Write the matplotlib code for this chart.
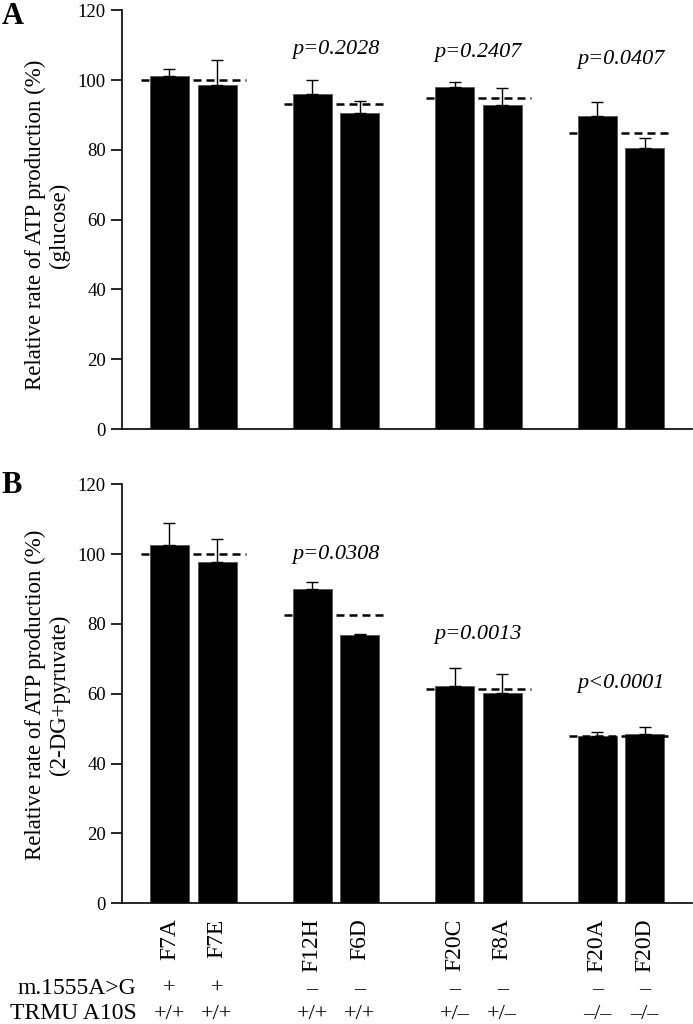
import numpy as np
import matplotlib
matplotlib.use("Agg")
import matplotlib.pyplot as plt

# --- ATP production relative rates, two conditions ---
lines = ["F7A", "F7E", "F12H", "F6D", "F20C", "F8A", "F20A", "F20D"]
positions = [0, 1, 3, 4, 6, 7, 9, 10]
mutation = ["+", "+", "\u2013", "\u2013", "\u2013", "\u2013", "\u2013", "\u2013"]
trmu = ["+/+", "+/+", "+/+", "+/+", "+/\u2013", "+/\u2013", "\u2013/\u2013", "\u2013/\u2013"]

glucose_mean = [101.3, 98.6, 95.9, 90.7, 97.9, 92.8, 89.7, 80.4]
glucose_err = [2.0, 7.0, 4.0, 3.3, 1.5, 4.8, 3.9, 3.1]
glucose_ref = [100.0, 93.1, 94.9, 84.7]
glucose_p = ["", "p=0.2028", "p=0.2407", "p=0.0407"]
glucose_p_y = [0, 108.7, 107.8, 105.8]

pyr_mean = [102.5, 97.7, 90.1, 76.8, 62.2, 60.3, 48.0, 48.5]
pyr_err = [6.4, 6.6, 2.0, 0.4, 5.3, 5.4, 1.1, 1.9]
pyr_ref = [100.0, 82.7, 61.4, 48.0]
pyr_p = ["", "p=0.0308", "p=0.0013", "p<0.0001"]
pyr_p_y = [0, 99.8, 76.9, 63.0]

plt.rcParams['font.family'] = ['Liberation Serif', 'DejaVu Serif']

fig = plt.figure(figsize=(6.93, 10.24), dpi=100)
axA = fig.add_axes([0.176, 0.581, 0.823, 0.409])
axB = fig.add_axes([0.176, 0.118, 0.823, 0.409])


def draw_panel(ax, means, errs, refs, ptext, py):
    ax.bar(positions, means, width=0.82, color='black', edgecolor='#555555',
           linewidth=0.6, zorder=2)
    ax.errorbar(positions, means, yerr=[np.zeros(len(means)), errs], fmt='none',
                ecolor='black', elinewidth=1, capsize=4, capthick=1, zorder=3)
    for g in range(4):
        x0 = positions[2 * g]
        x1 = positions[2 * g + 1]
        ax.plot([x0 - 0.6, x1 + 0.6], [refs[g], refs[g]], color='black',
                lw=1.8, dashes=(3.2, 2), zorder=4)
        if ptext[g]:
            ax.text((x0 + x1) / 2, py[g], ptext[g], ha='center', va='center',
                    style='italic', fontsize=16)
    ax.set_xlim(-1.0, 11.0)
    ax.set_ylim(0, 120)
    ax.set_yticks(range(0, 121, 20))
    ax.spines['top'].set_visible(False)
    ax.spines['right'].set_visible(False)
    ax.spines['left'].set_linewidth(1.2)
    ax.spines['bottom'].set_linewidth(1.2)
    ax.tick_params(axis='y', direction='out', length=8, width=1.2, labelsize=13.5)
    ax.tick_params(axis='x', length=0)


draw_panel(axA, glucose_mean, glucose_err, glucose_ref, glucose_p, glucose_p_y)
axA.set_xticks([])

draw_panel(axB, pyr_mean, pyr_err, pyr_ref, pyr_p, pyr_p_y)
axB.set_xticks(positions)
axB.set_xticklabels(lines, rotation=90, fontsize=17)
axB.tick_params(axis='x', pad=11)

fig.text(0.068, 0.780, "Relative rate of ATP production (%)\n(glucose)",
         rotation=90, ha='center', va='center', multialignment='center',
         fontsize=16.5, linespacing=1.15)
fig.text(0.068, 0.321, "Relative rate of ATP production (%)\n(2-DG+pyruvate)",
         rotation=90, ha='center', va='center', multialignment='center',
         fontsize=16.5, linespacing=1.15)

fig.text(0.002, 0.984, "A", fontsize=22, fontweight='bold', va='center')
fig.text(0.002, 0.526, "B", fontsize=22, fontweight='bold', va='center')

# genotype rows under the bar labels (baseline positions)
row_y = [1 - 994 / 1024, 1 - 1019 / 1024]
for xi, m, t in zip(positions, mutation, trmu):
    xf = axB.transData.transform((xi, 0))[0] / fig.bbox.width
    fig.text(xf, row_y[0], m, ha='center', va='baseline', fontsize=16)
    fig.text(xf, row_y[1], t, ha='center', va='baseline', fontsize=16)
fig.text(0.197, row_y[0], "m.1555A>G", ha='right', va='baseline', fontsize=17)
fig.text(0.197, row_y[1], "TRMU A10S", ha='right', va='baseline', fontsize=17)

fig.savefig("out.png", dpi=100)
